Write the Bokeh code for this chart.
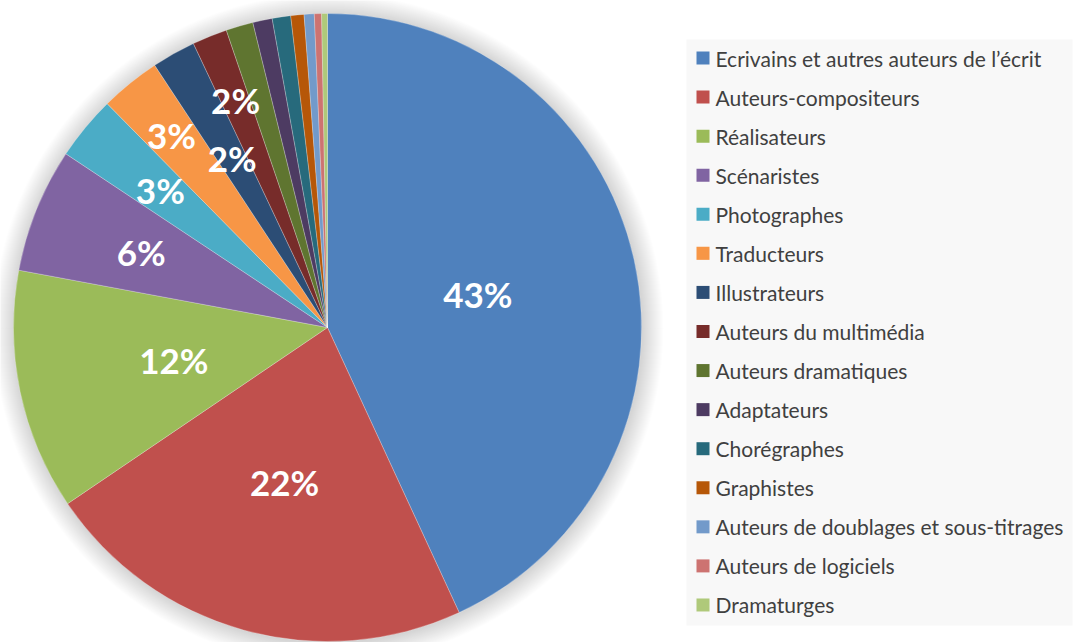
import math
import numpy as np
from bokeh.plotting import figure
from bokeh.models import Range1d, ColumnDataSource
from bokeh.core.properties import value
from bokeh.embed import file_html
from bokeh.resources import INLINE

# ---- data ----
categories = [
    "Ecrivains et autres auteurs de l\u2019écrit",
    "Auteurs-compositeurs",
    "Réalisateurs",
    "Scénaristes",
    "Photographes",
    "Traducteurs",
    "Illustrateurs",
    "Auteurs du multimédia",
    "Auteurs dramatiques",
    "Adaptateurs",
    "Chorégraphes",
    "Graphistes",
    "Auteurs de doublages et sous-titrages",
    "Auteurs de logiciels",
    "Dramaturges",
]
shares = [43.1, 22.4, 12.4, 6.4, 3.3, 3.1, 2.25, 1.8, 1.4, 1.0, 0.95, 0.68, 0.52, 0.37, 0.3]
colors = [
    "#4F81BD", "#C0504D", "#9BBB59", "#8064A2", "#4BACC6", "#F79646",
    "#2C4D75", "#772C2A", "#5F7530", "#4D3B62", "#276A7C", "#B65708",
    "#729ACA", "#CD7371", "#AFC97A",
]

# ---- layout (pixel space) ----
W, H = 1084, 642
CX, CY, R = 327, H - 327, 314
label_r = [0.49, 0.51, 0.50, 0.64, 0.69, 0.79, 0.62, 0.78]

p = figure(width=W, height=H, output_backend="svg", toolbar_location=None,
           x_range=Range1d(0, W), y_range=Range1d(0, H), min_border=0,
           background_fill_color="white", border_fill_color="white")
p.axis.visible = False
p.grid.visible = False
p.outline_line_color = None

# soft shadow (diffuse glow)
for k in range(1, 22):
    p.circle(x=[CX + 1], y=[CY - 1], radius=R + k, fill_color="#000000",
             fill_alpha=0.0065, line_color=None)

vals = np.array(shares, dtype=float)
frac = vals / vals.sum()
cum = np.concatenate([[0.0], np.cumsum(frac)]) * 2 * math.pi  # clockwise from top
start = [math.pi / 2 - cum[i + 1] for i in range(len(vals))]
end = [math.pi / 2 - cum[i] for i in range(len(vals))]

src = ColumnDataSource(dict(start=start, end=end, color=colors, cat=categories))
p.wedge(x=CX, y=CY, radius=R, start_angle="start", end_angle="end",
        fill_color="color", line_color="white", line_width=0.5, line_alpha=0.5,
        source=src)

# percentage labels
lx, ly, lt = [], [], []
for i, f in enumerate(label_r):
    mid = (cum[i] + cum[i + 1]) / 2
    lx.append(CX + f * R * math.sin(mid))
    ly.append(CY + f * R * math.cos(mid))
    lt.append(f"{round(frac[i] * 100)}%")
p.text(x=lx, y=ly, text=lt, text_color="white", text_font=value("Lato"),
       text_font_style="bold", text_font_size="35px",
       text_align="center", text_baseline="middle")

# legend box
p.quad(left=[686], right=[1072], bottom=[H - 625], top=[H - 39],
       fill_color="#F8F8F8", line_color=None)
n = len(categories)
row_y = [H - (57.5 + i * 39.07) for i in range(n)]
p.rect(x=[702.5] * n, y=row_y, width=13, height=13, fill_color=colors, line_color=None)
p.text(x=[715] * n, y=row_y, text=categories, text_color="#404040",
       text_font=value("Lato"), text_font_size="21px",
       text_align="left", text_baseline="middle")

open("out.html", "w").write(file_html(p, INLINE))
